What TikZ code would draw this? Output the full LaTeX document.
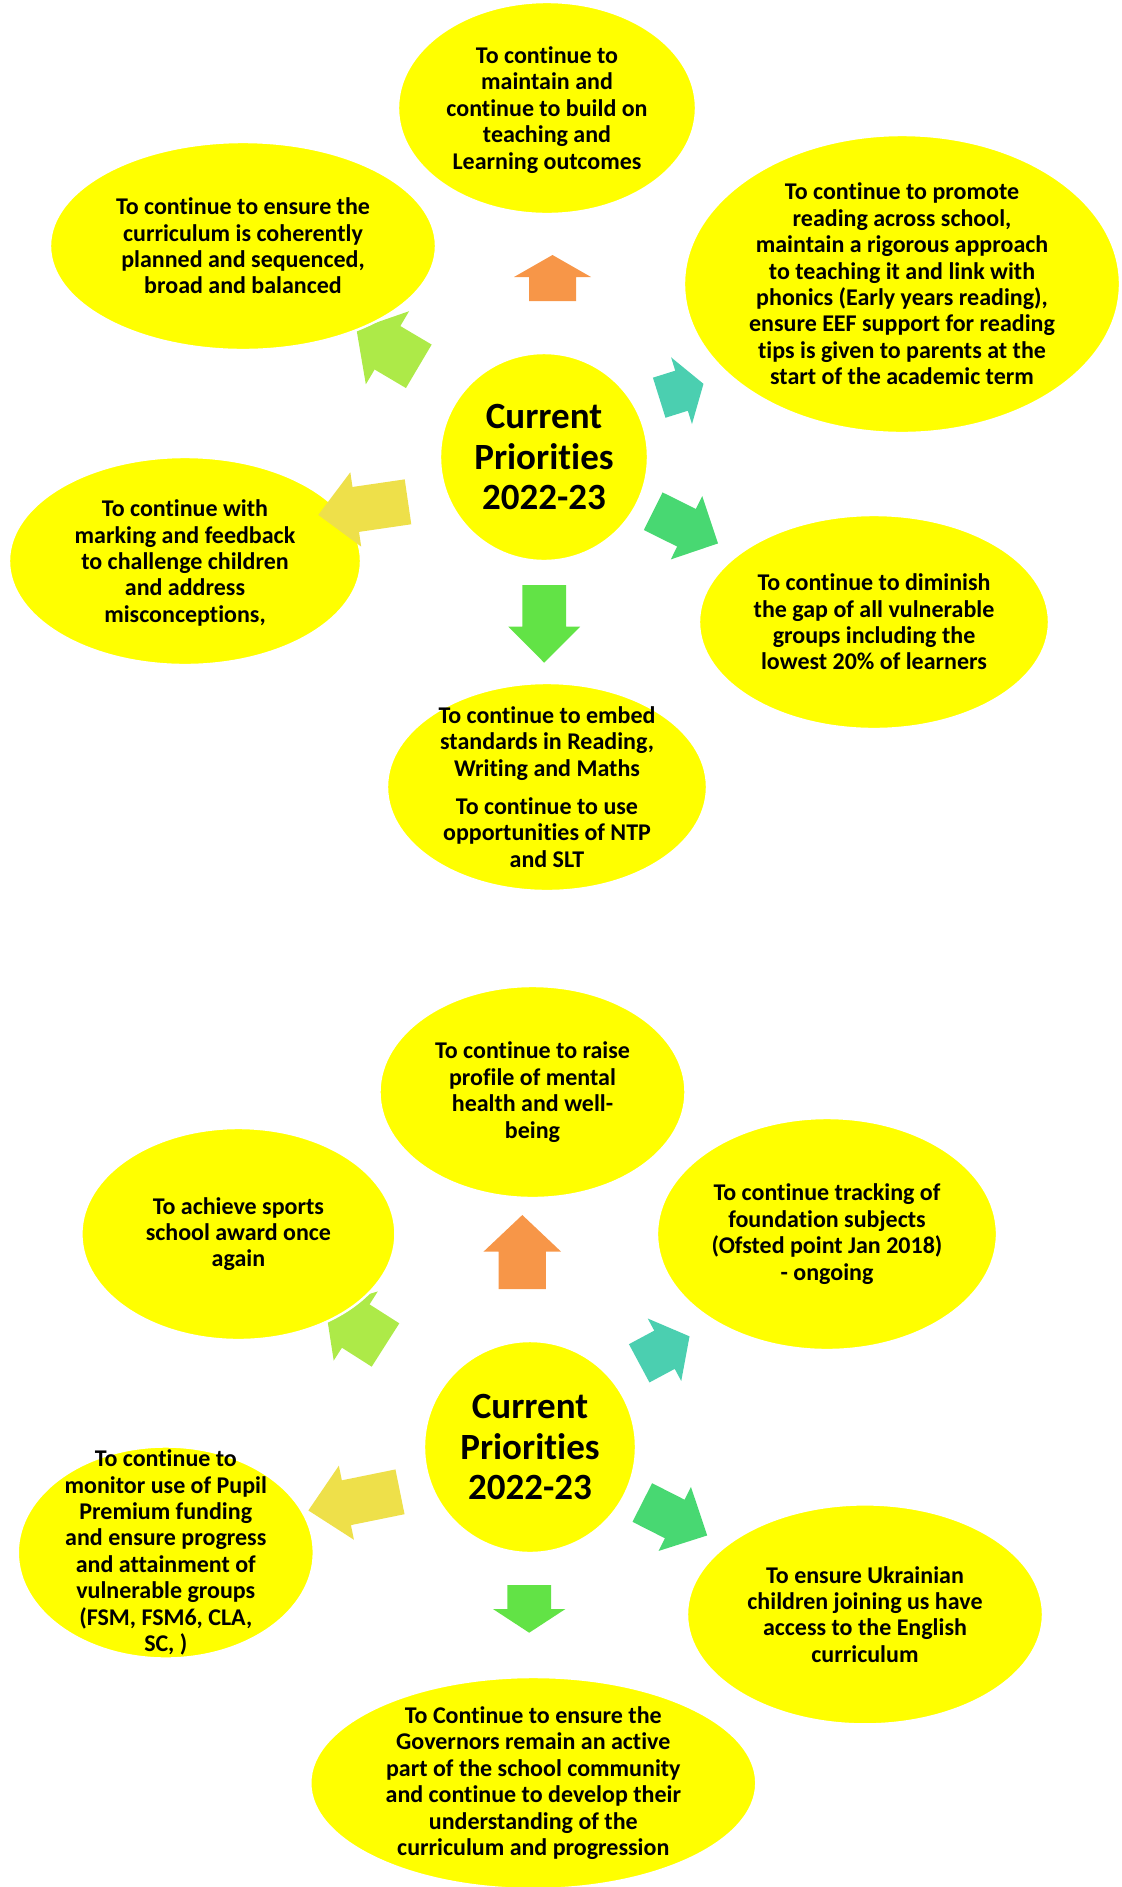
\documentclass[tikz,border=0pt]{standalone}
\usepackage{fontspec}
\setmainfont{Carlito}[Ligatures={NoCommon,NoContextual}, Contextuals=NoAlternate]
\usepackage{xcolor}
\usepackage{tikz}
\usetikzlibrary{shapes.geometric}

\definecolor{sunny}{RGB}{255,255,0}
\definecolor{arrorange}{RGB}{247,150,72}
\definecolor{arrlime}{RGB}{173,234,72}
\definecolor{arrteal}{RGB}{75,207,176}
\definecolor{arrgreen}{RGB}{72,216,114}
\definecolor{arrleaf}{RGB}{98,227,70}
\definecolor{arrsand}{RGB}{238,224,74}

% colour, x, y, angle, shaft length, shaft width, head length, head width
\newcommand{\blockarrow}[8]{%
  \fill[#1, shift={(#2,#3)}, rotate=#4]
    (0,-#6/2) -- (#5,-#6/2) -- (#5,-#8/2) -- (#5+#7,0) -- (#5,#8/2) -- (#5,#6/2) -- (0,#6/2) -- cycle;}

\begin{document}
\begin{tikzpicture}[x=0.5pt, y=-0.5pt,
    bubble/.style 2 args={ellipse, fill=sunny, draw=white, line width=1.2pt, inner sep=0pt,
      minimum width=#1pt, minimum height=#2pt},
    hub/.style={circle, fill=sunny, draw=white, line width=1.2pt, inner sep=0pt, minimum size=#1pt},
    words/.style={align=center, inner sep=0pt, font=\bfseries\fontsize{12}{13.2}\selectfont},
    hubwords/.style={align=center, inner sep=0pt, font=\bfseries\fontsize{18.5}{20.4}\selectfont}]
    \useasboundingbox (0,0) rectangle (1122,1887);

    % first cycle
    \blockarrow{arrlime}{418.8}{366.3}{149.4}{36.4}{50.5}{36}{85}

    \node[bubble={149}{106}] (teach) at (547,108) {};
    \node[bubble={193}{104}] (curric) at (243,246) {};
    \node[bubble={218}{149}] (read) at (902,284) {};
    \node[bubble={176}{104}] (mark) at (185,561) {};
    \node[bubble={175}{107}] (gap) at (874,622) {};
    \node[bubble={160}{104}] (embed) at (547,787) {};
    \node[hub=104] (core) at (544,457) {};

    \blockarrow{arrorange}{552.5}{301}{90}{24}{47}{22}{77}
    \blockarrow{arrteal}{659.2}{397.7}{17.4}{23.4}{42}{23}{70}
    \blockarrow{arrgreen}{653.2}{511.2}{-26.4}{37.2}{42}{35.2}{70.7}
    \blockarrow{arrleaf}{544.2}{585}{-90}{41.7}{43.7}{36}{71.7}
    \blockarrow{arrsand}{408}{501.8}{188.3}{52.8}{45.4}{37.9}{75.1}

    \node[hubwords] (core-t) at (core) {Current\\Priorities\\2022-23};
    \node[words] (teach-t) at (547,110) {To continue to\\maintain and\\continue to build on\\teaching and\\Learning outcomes};
    \node[words] (curric-t) at (curric) {To continue to ensure the\\curriculum is coherently\\planned and sequenced,\\broad and balanced};
    \node[words] (read-t) at (read) {To continue to promote\\reading across school,\\maintain a rigorous approach\\to teaching it and link with\\phonics (Early years reading),\\ensure EEF support for reading\\tips is given to parents at the\\start of the academic term};
    \node[words] (mark-t) at (185,563) {To continue with\\marking and feedback\\to challenge children\\and address\\misconceptions,};
    \node[words] (gap-t) at (gap) {To continue to diminish\\the gap of all vulnerable\\groups including the\\lowest 20\% of learners};
    \node[words] (embed-t) at (embed) {To continue to embed\\standards in Reading,\\Writing and Maths\\[5.8pt]To continue to use\\opportunities of NTP\\and SLT};

    % second cycle
    \blockarrow{arrlime}{385.5}{1345}{147.5}{35.3}{51.4}{36}{82}

    \node[bubble={153}{106}] (mental) at (532.5,1092) {};
    \node[bubble={157}{106}] (sports) at (238.4,1234) {};
    \node[bubble={170}{116}] (track) at (827,1234) {};
    \node[bubble={148}{106}] (pupil) at (165.8,1552.5) {};
    \node[bubble={178}{110}] (ukr) at (865,1614.4) {};
    \node[bubble={223}{106}] (gov) at (533.3,1783) {};
    \node[hub=106] (core2) at (530,1447) {};

    \blockarrow{arrorange}{522.3}{1289}{90}{37.3}{47.3}{36.7}{77.7}
    \blockarrow{arrteal}{639.2}{1363.3}{28.2}{28.7}{43.4}{28.4}{70.9}
    \blockarrow{arrgreen}{642.3}{1502.5}{-26.9}{36.4}{43.3}{36.4}{71.7}
    \blockarrow{arrleaf}{529.2}{1585}{-90}{24}{43.7}{23.7}{72.4}
    \blockarrow{arrsand}{400}{1491.8}{191.5}{54.7}{45.7}{38.8}{75.6}

    \node[hubwords] (core2-t) at (core2) {Current\\Priorities\\2022-23};
    \node[words] (mental-t) at (mental) {To continue to raise\\profile of mental\\health and well-\\being};
    \node[words] (sports-t) at (sports) {To achieve sports\\school award once\\again};
    \node[words] (track-t) at (track) {To continue tracking of\\foundation subjects\\(Ofsted point Jan 2018)\\- ongoing};
    \node[words] (pupil-t) at (pupil) {To continue to\\monitor use of Pupil\\Premium funding\\and ensure progress\\and attainment of\\vulnerable groups\\(FSM, FSM6, CLA,\\SC, )};
    \node[words] (ukr-t) at (ukr) {To ensure Ukrainian\\children joining us have\\access to the English\\curriculum};
    \node[words] (gov-t) at (gov) {To Continue to ensure the\\Governors remain an active\\part of the school community\\and continue to develop their\\understanding of the\\curriculum and progression};
\end{tikzpicture}
\end{document}
